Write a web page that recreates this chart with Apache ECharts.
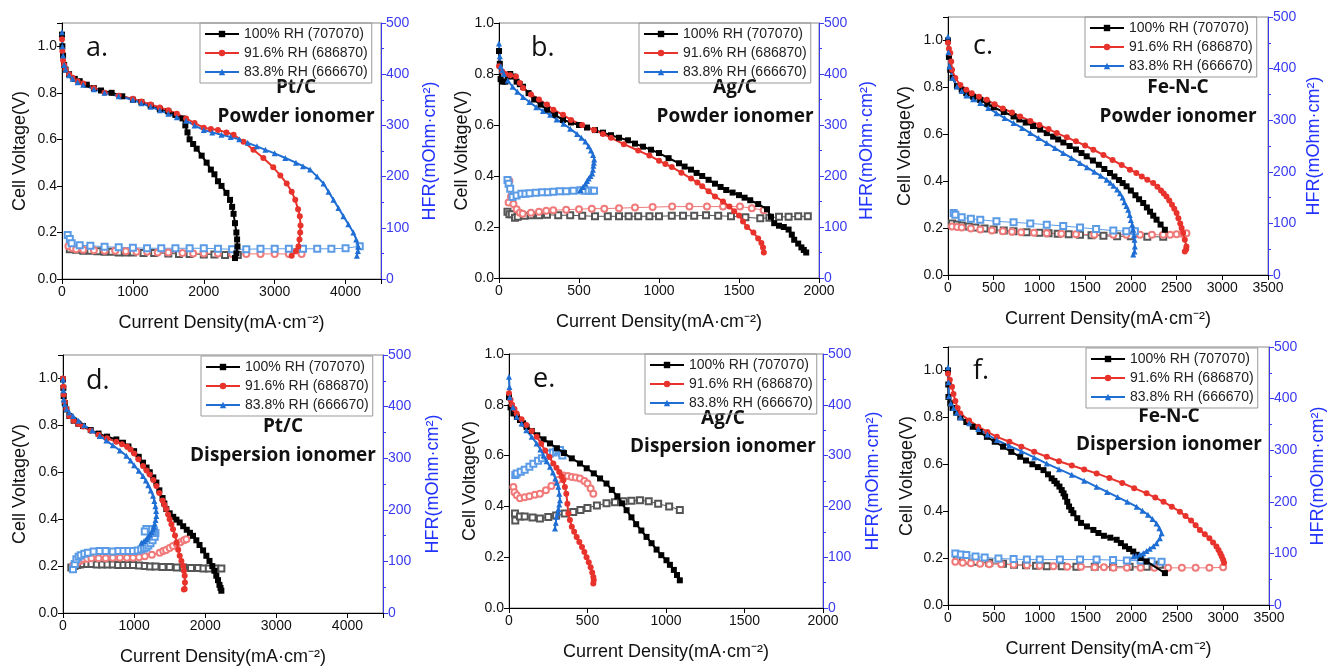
<!DOCTYPE html>
<html lang="en" style="height: 100%">
<head>
<meta charset="utf-8">
<title>Polarization and HFR curves</title>
</head>
<body style="height: 100%; margin: 0; background: #fff">
<div id="container" style="width: 1330px; height: 667px"></div>
<script type="text/javascript" src="https://cdn.jsdelivr.net/npm/echarts@6/dist/echarts.min.js"></script>
<script type="text/javascript">
var dom = document.getElementById('container');
var myChart = echarts.init(dom);

var rhNames = ['100% RH (707070)', '91.6% RH (686870)', '83.8% RH (666670)'];

// a. Pt/C powder ionomer  [current density, cell voltage] / [current density, HFR]
var aV100 = [[0,1.05],[5,1.0],[15,0.96],[30,0.92],[50,0.9],[100,0.88],[180,0.86],[250,0.85],[350,0.835],[450,0.82],[550,0.81],[700,0.8],[850,0.785],[1000,0.77],[1120,0.76],[1250,0.745],[1380,0.73],[1500,0.72],[1600,0.705],[1700,0.69],[1740,0.66],[1770,0.63],[1800,0.6],[1850,0.58],[1900,0.56],[1970,0.53],[2040,0.5],[2100,0.47],[2150,0.45],[2200,0.42],[2250,0.4],[2320,0.37],[2370,0.34],[2400,0.31],[2420,0.28],[2440,0.24],[2460,0.2],[2470,0.17],[2475,0.14],[2460,0.11],[2440,0.09]];
var aV916 = [[0,1.03],[5,0.98],[15,0.94],[30,0.92],[50,0.9],[100,0.88],[150,0.865],[220,0.85],[300,0.84],[450,0.82],[600,0.8],[800,0.787],[1000,0.775],[1120,0.763],[1250,0.75],[1380,0.737],[1500,0.725],[1620,0.71],[1750,0.69],[1870,0.67],[2000,0.65],[2100,0.645],[2200,0.64],[2320,0.63],[2420,0.62],[2560,0.59],[2700,0.555],[2840,0.52],[2980,0.48],[3080,0.445],[3170,0.41],[3240,0.375],[3290,0.34],[3330,0.3],[3355,0.27],[3365,0.23],[3360,0.2],[3350,0.17],[3335,0.14],[3300,0.12],[3240,0.1]];
var aV838 = [[0,1.06],[5,1.0],[15,0.96],[30,0.92],[50,0.9],[100,0.875],[150,0.86],[220,0.845],[300,0.835],[450,0.815],[600,0.8],[800,0.785],[1000,0.77],[1120,0.755],[1250,0.74],[1380,0.725],[1500,0.71],[1620,0.695],[1750,0.68],[1870,0.66],[2000,0.64],[2120,0.63],[2250,0.62],[2380,0.61],[2500,0.6],[2620,0.585],[2750,0.57],[2870,0.555],[3000,0.54],[3150,0.52],[3300,0.5],[3400,0.485],[3500,0.47],[3600,0.44],[3690,0.41],[3760,0.375],[3830,0.34],[3900,0.305],[3970,0.27],[4040,0.235],[4110,0.2],[4150,0.17],[4180,0.14],[4175,0.12],[4160,0.1]];
var aR100 = [[110,58],[200,57],[300,55],[400,55],[500,54],[600,53],[700,53],[800,52],[900,52],[1000,52],[1150,51],[1300,51],[1500,50],[1650,49],[1800,49],[2000,48],[2150,48],[2300,47],[2480,47]];
var aR916 = [[90,64],[150,60],[200,58],[300,57],[450,56],[600,55],[750,55],[900,54],[1050,53],[1200,53],[1350,52],[1500,52],[1700,51],[1850,50],[2000,50],[2200,50],[2400,49],[2600,49],[2800,49],[3000,49],[3200,49],[3380,49]];
var aR838 = [[80,86],[110,78],[136,70],[250,66],[400,65],[600,63],[800,62],[1000,61],[1200,60],[1400,60],[1600,60],[1800,60],[2000,60],[2200,59],[2400,58],[2600,58],[2800,59],[3000,59],[3200,59],[3400,59],[3600,59],[3800,59],[4000,60],[4200,64]];

// b. Ag/C powder ionomer
var bV100 = [[0,0.89],[5,0.84],[10,0.78],[25,0.77],[40,0.77],[55,0.79],[70,0.8],[90,0.79],[110,0.77],[130,0.76],[150,0.75],[185,0.725],[220,0.7],[260,0.68],[300,0.66],[350,0.64],[400,0.62],[450,0.61],[500,0.6],[550,0.59],[600,0.58],[650,0.57],[700,0.56],[750,0.55],[806,0.54],[850,0.527],[900,0.515],[950,0.503],[1000,0.49],[1060,0.47],[1125,0.45],[1160,0.437],[1200,0.425],[1235,0.412],[1270,0.4],[1310,0.385],[1350,0.37],[1385,0.357],[1420,0.345],[1460,0.335],[1500,0.325],[1535,0.315],[1570,0.305],[1620,0.29],[1675,0.27],[1700,0.24],[1720,0.215],[1750,0.205],[1780,0.2],[1810,0.19],[1830,0.17],[1845,0.15],[1870,0.135],[1890,0.12],[1905,0.11],[1920,0.1]];
var bV916 = [[0,0.83],[20,0.81],[40,0.8],[70,0.795],[106,0.79],[130,0.765],[150,0.745],[200,0.72],[250,0.7],[300,0.68],[340,0.66],[400,0.64],[450,0.62],[520,0.6],[594,0.58],[650,0.565],[700,0.55],[780,0.525],[870,0.5],[940,0.48],[1000,0.46],[1040,0.447],[1080,0.435],[1140,0.413],[1200,0.39],[1240,0.375],[1270,0.36],[1310,0.34],[1350,0.32],[1400,0.3],[1440,0.28],[1470,0.262],[1500,0.245],[1525,0.222],[1550,0.2],[1590,0.178],[1620,0.155],[1640,0.137],[1650,0.12],[1655,0.1]];
var bV838 = [[0,0.92],[5,0.87],[10,0.83],[20,0.815],[30,0.8],[55,0.775],[85,0.75],[115,0.73],[150,0.71],[190,0.69],[233,0.67],[275,0.655],[320,0.64],[360,0.622],[403,0.605],[445,0.585],[488,0.565],[515,0.55],[540,0.535],[560,0.517],[575,0.5],[588,0.482],[595,0.465],[593,0.452],[590,0.44],[587,0.425],[583,0.41],[572,0.4],[560,0.39],[550,0.38],[541,0.37],[525,0.357],[509,0.345]];
var bR100 = [[53,130],[65,125],[80,125],[100,118],[117,120],[160,122],[200,123],[250,123],[300,124],[370,123],[445,123],[520,122],[600,121],[680,121],[750,121],[810,121],[870,121],[940,121],[1000,121],[1080,122],[1150,122],[1220,122],[1294,123],[1370,122],[1450,121],[1540,119],[1633,117],[1690,118],[1750,120],[1810,120],[1870,121],[1930,121]];
var bR916 = [[60,148],[65,190],[75,160],[90,145],[110,135],[130,128],[148,126],[200,128],[250,130],[295,132],[339,133],[420,134],[500,135],[580,136],[658,136],[750,137],[850,138],[960,139],[1082,140],[1190,140],[1300,140],[1400,140],[1506,140],[1580,137],[1654,133]];
var bR838 = [[53,192],[60,185],[70,175],[85,159],[110,162],[140,165],[165,165],[191,166],[230,167],[270,168],[305,168],[339,169],[380,170],[420,170],[465,171],[509,172],[535,171],[560,171],[580,171],[594,171]];

// c. Fe-N-C powder ionomer
var cV100 = [[0,1.0],[10,0.93],[25,0.875],[50,0.84],[98,0.805],[150,0.79],[200,0.775],[275,0.76],[353,0.747],[430,0.73],[500,0.715],[610,0.695],[717,0.676],[780,0.663],[850,0.65],[930,0.635],[1008,0.62],[1080,0.605],[1150,0.59],[1205,0.578],[1262,0.565],[1330,0.55],[1400,0.535],[1460,0.52],[1517,0.506],[1585,0.488],[1650,0.47],[1710,0.452],[1772,0.435],[1820,0.42],[1870,0.405],[1910,0.392],[1953,0.378],[2000,0.36],[2050,0.34],[2090,0.323],[2135,0.307],[2175,0.288],[2210,0.27],[2245,0.253],[2281,0.236],[2325,0.215],[2372,0.193]];
var cV916 = [[0,0.99],[10,0.965],[25,0.946],[35,0.91],[44,0.875],[80,0.84],[135,0.81],[200,0.79],[260,0.775],[340,0.76],[425,0.747],[510,0.728],[600,0.71],[700,0.693],[789,0.676],[900,0.657],[1000,0.64],[1100,0.622],[1190,0.605],[1300,0.587],[1400,0.57],[1500,0.552],[1590,0.534],[1700,0.512],[1800,0.49],[1900,0.469],[1990,0.449],[2060,0.435],[2120,0.42],[2180,0.406],[2244,0.392],[2290,0.376],[2330,0.36],[2360,0.347],[2390,0.335],[2420,0.318],[2450,0.3],[2475,0.282],[2500,0.264],[2520,0.242],[2540,0.22],[2555,0.2],[2572,0.179],[2590,0.15],[2608,0.122],[2605,0.11],[2590,0.1]];
var cV838 = [[0,1.017],[5,0.95],[15,0.889],[50,0.84],[98,0.804],[150,0.785],[200,0.765],[275,0.749],[353,0.733],[440,0.712],[530,0.69],[620,0.669],[717,0.648],[810,0.627],[900,0.605],[990,0.584],[1080,0.5625],[1170,0.541],[1260,0.52],[1350,0.499],[1444,0.477],[1520,0.459],[1600,0.44],[1670,0.423],[1735,0.406],[1775,0.393],[1810,0.38],[1850,0.365],[1881,0.349],[1910,0.33],[1930,0.31],[1952,0.294],[1971,0.278],[1987,0.256],[2000,0.235],[2015,0.214],[2026,0.193],[2035,0.17],[2040,0.15],[2044,0.122],[2040,0.1],[2026,0.087]];
var cR100 = [[44,100],[100,98],[150,96],[225,94],[300,92],[400,90],[500,88],[610,86],[717,85],[860,83],[1000,82],[1100,81],[1200,80],[1320,79],[1444,78],[1570,77],[1700,76],[1850,75],[2000,75],[2180,74],[2354,74]];
var cR916 = [[44,94],[100,93],[150,92],[250,90],[353,88],[480,86],[600,85],[700,84],[800,83],[940,82],[1080,81],[1240,80],[1400,79],[1600,78],[1808,78],[1950,78],[2100,78],[2230,78],[2354,78],[2430,78],[2500,79],[2560,80],[2608,81]];
var cR838 = [[62,120],[80,117],[150,112],[250,109],[353,107],[530,104],[717,102],[900,100],[1080,97.5],[1260,95],[1444,92],[1620,89],[1808,86],[1950,85],[2044,85]];

// d. Pt/C dispersion ionomer
var dV100 = [[0,0.996],[5,0.96],[10,0.925],[25,0.895],[47,0.868],[90,0.84],[150,0.82],[215,0.807],[281,0.797],[390,0.78],[500,0.765],[620,0.752],[750,0.74],[844,0.726],[920,0.71],[1000,0.69],[1065,0.666],[1125,0.641],[1175,0.62],[1220,0.6],[1270,0.578],[1313,0.556],[1355,0.523],[1400,0.49],[1425,0.467],[1453,0.443],[1500,0.425],[1550,0.41],[1595,0.398],[1641,0.386],[1690,0.37],[1740,0.355],[1785,0.342],[1828,0.329],[1875,0.31],[1920,0.29],[1970,0.267],[2016,0.244],[2060,0.222],[2100,0.2],[2130,0.18],[2156,0.159],[2180,0.14],[2200,0.12],[2215,0.107],[2227,0.095]];
var dV916 = [[0,1.0],[5,0.965],[10,0.93],[25,0.9],[47,0.87],[90,0.84],[150,0.82],[215,0.806],[281,0.795],[390,0.777],[500,0.76],[620,0.745],[750,0.73],[830,0.72],[900,0.71],[950,0.697],[1000,0.68],[1060,0.655],[1125,0.627],[1175,0.608],[1220,0.59],[1270,0.567],[1313,0.542],[1355,0.512],[1400,0.48],[1425,0.462],[1453,0.443],[1478,0.42],[1500,0.4],[1525,0.378],[1547,0.357],[1575,0.33],[1600,0.3],[1620,0.27],[1641,0.244],[1665,0.222],[1690,0.2],[1700,0.18],[1711,0.159],[1715,0.13],[1711,0.102],[1700,0.1]];
var dV838 = [[0,0.996],[5,0.95],[10,0.91],[25,0.89],[50,0.87],[90,0.855],[141,0.84],[220,0.82],[300,0.8],[410,0.778],[516,0.755],[610,0.735],[700,0.715],[800,0.693],[891,0.67],[950,0.65],[1000,0.63],[1065,0.607],[1125,0.584],[1165,0.565],[1200,0.545],[1235,0.522],[1266,0.5],[1285,0.477],[1300,0.455],[1310,0.435],[1313,0.414],[1302,0.397],[1290,0.38],[1280,0.368],[1266,0.357],[1245,0.345],[1220,0.335],[1195,0.325],[1172,0.315],[1140,0.307],[1102,0.3]];
var dR100 = [[117,88],[160,91],[200,93],[240,94],[281,95],[340,95],[400,95],[475,94],[550,94],[625,94],[700,94],[775,93],[850,93],[920,93],[985,93],[1070,92],[1150,91],[1225,90],[1300,90],[1400,89],[1500,89],[1600,88],[1688,88],[1800,87],[1900,87],[1975,86],[2050,86],[2140,86],[2227,86]];
var dR916 = [[141,91],[170,95],[200,98],[240,101],[281,104],[340,105],[400,106],[500,106],[600,106],[700,107],[800,107],[900,107],[985,107],[1070,108],[1150,110],[1250,113],[1360,117],[1410,120],[1450,122],[1500,126],[1547,130],[1600,134],[1650,137],[1700,141],[1735,143]];
var dR838 = [[141,85],[165,95],[188,104],[220,109],[250,112],[300,115],[350,117],[430,119],[516,120],[600,120],[700,119],[780,120],[850,120],[920,120],[985,120],[1050,121],[1100,123],[1140,125],[1172,127],[1200,131],[1230,135],[1260,141],[1290,148],[1300,155],[1280,159],[1250,162],[1210,163],[1172,163],[1150,158]];

// e. Ag/C dispersion ionomer
var eV100 = [[0,0.83],[10,0.79],[28,0.766],[50,0.752],[70,0.74],[90,0.727],[112,0.713],[145,0.697],[180,0.68],[220,0.664],[261,0.648],[305,0.629],[350,0.61],[400,0.589],[452,0.569],[495,0.55],[540,0.53],[580,0.51],[621,0.49],[655,0.465],[690,0.44],[720,0.412],[749,0.385],[780,0.357],[810,0.33],[843,0.305],[876,0.28],[908,0.255],[940,0.23],[970,0.208],[1003,0.188],[1025,0.17],[1050,0.15],[1070,0.13],[1088,0.109]];
var eV916 = [[0,0.845],[10,0.82],[20,0.8],[35,0.783],[49,0.766],[80,0.743],[110,0.72],[145,0.697],[176,0.674],[205,0.647],[230,0.62],[258,0.594],[282,0.569],[302,0.552],[320,0.535],[335,0.519],[346,0.503],[356,0.476],[365,0.45],[372,0.41],[378,0.372],[388,0.346],[400,0.32],[415,0.3],[431,0.28],[448,0.26],[465,0.24],[480,0.22],[494,0.2],[508,0.18],[520,0.16],[530,0.14],[537,0.122],[540,0.11],[537,0.096]];
var eV838 = [[0,0.91],[3,0.87],[5,0.83],[25,0.79],[49,0.753],[80,0.726],[110,0.7],[145,0.674],[176,0.648],[200,0.624],[220,0.6],[240,0.578],[261,0.556],[280,0.533],[295,0.51],[305,0.493],[314,0.477],[320,0.45],[325,0.424],[320,0.407],[315,0.39],[310,0.375],[303,0.359],[298,0.336],[293,0.313]];
var eR100 = [[38,186],[40,172],[70,180],[100,180],[150,178],[197,176],[250,179],[300,182],[355,186],[409,189],[455,193],[500,197],[560,202],[621,206],[675,208],[730,210],[780,211],[834,212],[890,210],[950,205],[1020,200],[1088,193]];
var eR916 = [[28,238],[35,228],[50,222],[70,216],[100,218],[130,220],[165,223],[197,225],[235,232],[270,240],[310,252],[346,261],[375,260],[400,258],[425,257],[452,255],[480,250],[500,245],[520,235],[537,225]];
var eR838 = [[40,262],[49,265],[75,268],[100,272],[130,278],[155,284],[185,290],[210,295],[235,300],[261,304],[280,306],[300,308],[315,310],[325,311],[335,305],[340,300]];

// f. Fe-N-C dispersion ionomer
var fV100 = [[0,1.0],[3,0.94],[5,0.887],[25,0.86],[50,0.84],[90,0.82],[134,0.8],[200,0.78],[270,0.76],[345,0.738],[424,0.717],[510,0.696],[600,0.675],[690,0.653],[787,0.632],[850,0.616],[920,0.6],[980,0.588],[1041,0.575],[1090,0.557],[1130,0.54],[1160,0.529],[1186,0.518],[1215,0.505],[1240,0.49],[1260,0.476],[1277,0.462],[1300,0.44],[1320,0.42],[1345,0.405],[1367,0.391],[1410,0.37],[1450,0.35],[1515,0.335],[1585,0.32],[1640,0.307],[1700,0.295],[1770,0.287],[1839,0.278],[1885,0.264],[1930,0.25],[1975,0.239],[2020,0.228],[2060,0.214],[2100,0.2],[2165,0.186],[2365,0.136]];
var fV916 = [[0,0.986],[20,0.96],[44,0.93],[60,0.9],[80,0.87],[105,0.84],[134,0.816],[230,0.787],[330,0.76],[430,0.738],[533,0.717],[670,0.696],[800,0.675],[940,0.653],[1077,0.632],[1210,0.613],[1350,0.595],[1485,0.578],[1621,0.561],[1760,0.541],[1900,0.52],[2030,0.498],[2165,0.476],[2260,0.458],[2350,0.44],[2440,0.419],[2528,0.398],[2590,0.379],[2650,0.36],[2700,0.34],[2746,0.32],[2800,0.302],[2850,0.285],[2890,0.267],[2927,0.249],[2950,0.235],[2970,0.22],[2985,0.207],[3000,0.193],[3010,0.18]];
var fV838 = [[0,1.014],[5,0.95],[10,0.89],[30,0.86],[60,0.84],[95,0.82],[134,0.8],[230,0.775],[330,0.75],[430,0.727],[533,0.703],[665,0.679],[800,0.655],[940,0.629],[1077,0.603],[1210,0.579],[1350,0.555],[1485,0.53],[1621,0.504],[1735,0.482],[1850,0.46],[1955,0.44],[2057,0.419],[2120,0.402],[2180,0.385],[2230,0.367],[2274,0.348],[2305,0.327],[2329,0.306],[2310,0.285],[2274,0.263],[2240,0.25],[2200,0.24],[2165,0.23],[2129,0.221],[2090,0.215],[2050,0.21],[2020,0.207]];
var fR100 = [[98,88],[200,86],[300,84],[450,82],[600,80],[720,78],[850,77],[960,76],[1077,75],[1240,75],[1400,74],[1600,74],[1800,74],[1980,74],[2165,74],[2240,76],[2310,78]];
var fR916 = [[80,84],[160,82],[250,81],[350,80],[450,79],[580,79],[715,78],[860,77],[1000,76],[1150,75],[1300,74],[1450,74],[1600,73],[1700,73],[1803,72],[1950,72],[2100,72],[2250,72],[2400,72],[2550,72],[2700,72],[2850,72],[3000,73]];
var fR838 = [[80,100],[140,98],[200,97],[300,94],[400,92],[550,90],[715,89],[860,88],[1000,88],[1220,88],[1440,88],[1620,88],[1800,87],[1950,86],[2100,86],[2220,85],[2329,84]];

// layout of the six panels
var panels = [
    {tag: 'a.', cat: 'Pt/C',   ion: 'Powder ionomer',     V: [aV100, aV916, aV838], R: [aR100, aR916, aR838], xMax: 4500, xInt: 1000, yMax: 1.1,
     grid: {left: 62, top: 23, width: 319, height: 256}, legend: [200, 23], tagPos: [86, 52], txtPos: [296, 88, 117], gaps: [33, 40, 35]},
    {tag: 'b.', cat: 'Ag/C',   ion: 'Powder ionomer',     V: [bV100, bV916, bV838], R: [bR100, bR916, bR838], xMax: 2000, xInt: 500, yMax: 1.0,
     grid: {left: 499, top: 23, width: 320, height: 255}, legend: [639, 23], tagPos: [531, 52], txtPos: [735, 88, 117], gaps: [28, 39, 35]},
    {tag: 'c.', cat: 'Fe-N-C', ion: 'Powder ionomer',     V: [cV100, cV916, cV838], R: [cR100, cR916, cR838], xMax: 3500, xInt: 500, yMax: 1.1,
     grid: {left: 948, top: 17, width: 320, height: 258}, legend: [1085, 17], tagPos: [973, 50], txtPos: [1178, 88, 117], gaps: [34, 37, 35]},
    {tag: 'd.', cat: 'Pt/C',   ion: 'Dispersion ionomer', V: [dV100, dV916, dV838], R: [dR100, dR916, dR838], xMax: 4500, xInt: 1000, yMax: 1.1,
     grid: {left: 63, top: 355, width: 320, height: 259}, legend: [201, 356], tagPos: [86, 385], txtPos: [283, 427, 456], gaps: [34, 41, 35]},
    {tag: 'e.', cat: 'Ag/C',   ion: 'Dispersion ionomer', V: [eV100, eV916, eV838], R: [eR100, eR916, eR838], xMax: 2000, xInt: 500, yMax: 1.0,
     grid: {left: 509, top: 354, width: 314, height: 254}, legend: [645, 354], tagPos: [533, 383], txtPos: [723, 419, 447], gaps: [30, 41, 35]},
    {tag: 'f.', cat: 'Fe-N-C', ion: 'Dispersion ionomer', V: [fV100, fV916, fV838], R: [fR100, fR916, fR838], xMax: 3500, xInt: 500, yMax: 1.1,
     grid: {left: 948, top: 347, width: 321, height: 258}, legend: [1086, 348], tagPos: [973, 375], txtPos: [1169, 417, 445], gaps: [32, 40, 35]}
];

var solidColors = ['#000000', '#e8322c', '#1f6ed4'];
var hollowColors = ['#555555', '#f07a7a', '#5b9be6'];
var solidSymbols = ['rect', 'circle', 'triangle'];
var hollowSymbols = ['emptyRect', 'emptyCircle', 'emptyRect'];
var axisFont = 'Liberation Sans';
var hfrBlue = '#3a3af0';

var grids = [], xAxes = [], yAxes = [], series = [], legends = [], texts = [];

panels.forEach(function (p, i) {
    grids.push(Object.assign({show: true, borderColor: '#888', borderWidth: 1, backgroundColor: 'transparent'}, p.grid));

    xAxes.push({
        type: 'value', gridIndex: i, min: 0, max: p.xMax, interval: p.xInt,
        name: 'Current Density(mA·cm⁻²)', nameLocation: 'middle', nameGap: p.gaps[2],
        nameTextStyle: {fontFamily: axisFont, fontSize: 18, color: '#111'},
        axisLine: {lineStyle: {color: '#000', width: 1}},
        axisTick: {length: 5, lineStyle: {color: '#000'}},
        axisLabel: {fontFamily: axisFont, fontSize: 14, color: '#111', margin: 6,
            formatter: function (v) { return v % p.xInt === 0 ? String(v) : ''; }},
        splitLine: {show: false}
    });

    yAxes.push({
        type: 'value', gridIndex: i, position: 'left', min: 0, max: p.yMax, interval: 0.2,
        name: 'Cell Voltage(V)', nameLocation: 'middle', nameGap: p.gaps[0],
        nameTextStyle: {fontFamily: axisFont, fontSize: 18, color: '#111'},
        axisLine: {show: true, lineStyle: {color: '#000', width: 1}},
        axisTick: {length: 5, lineStyle: {color: '#000'}},
        axisLabel: {fontFamily: axisFont, fontSize: 14, color: '#111', margin: 5,
            formatter: function (v) { return v > 1.05 ? '' : v.toFixed(1); }},
        splitLine: {show: false}
    });
    yAxes.push({
        type: 'value', gridIndex: i, position: 'right', min: 0, max: 500, interval: 100,
        name: 'HFR(mOhm·cm²)', nameLocation: 'middle', nameGap: p.gaps[1],
        nameTextStyle: {fontFamily: axisFont, fontSize: 18, color: '#2233ff'},
        axisLine: {show: true, lineStyle: {color: hfrBlue, width: 1}},
        axisTick: {length: 5, lineStyle: {color: hfrBlue}},
        minorTick: {show: true, splitNumber: 2, length: 3, lineStyle: {color: hfrBlue}},
        axisLabel: {fontFamily: axisFont, fontSize: 14, color: hfrBlue, margin: 5},
        splitLine: {show: false}
    });

    for (var k = 0; k < 3; k++) {
        series.push({
            name: 'HFR ' + rhNames[k], type: 'line', xAxisIndex: i, yAxisIndex: 2 * i + 1,
            data: p.R[k], symbol: hollowSymbols[k], symbolSize: 6,
            itemStyle: {color: hollowColors[k], borderWidth: 1},
            lineStyle: {color: hollowColors[k], width: 1}, z: 2
        });
    }
    for (var k2 = 0; k2 < 3; k2++) {
        series.push({
            name: rhNames[k2], type: 'line', xAxisIndex: i, yAxisIndex: 2 * i,
            data: p.V[k2], symbol: solidSymbols[k2], symbolSize: 6,
            itemStyle: {color: solidColors[k2]},
            lineStyle: {color: solidColors[k2], width: 2}, z: 3
        });
    }

    legends.push({
        orient: 'vertical', left: p.legend[0], top: p.legend[1],
        itemWidth: 34, itemHeight: 8, itemGap: 5, padding: [4, 4, 4, 4],
        borderColor: '#999', borderWidth: 1, selectedMode: false,
        textStyle: {fontFamily: axisFont, fontSize: 14, color: '#222'},
        data: rhNames
    });

    texts.push({type: 'text', left: p.tagPos[0], top: p.tagPos[1] - 17,
        style: {text: p.tag, fontFamily: 'Open Sans', fontSize: 27, fill: '#111'}});
    texts.push({type: 'text', x: p.txtPos[0], y: p.txtPos[1],
        style: {text: p.cat, fontFamily: 'Open Sans', fontWeight: 'bold', fontSize: 19, fill: '#111',
            align: 'center', verticalAlign: 'middle'}});
    texts.push({type: 'text', x: p.txtPos[0], y: p.txtPos[2],
        style: {text: p.ion, fontFamily: 'Open Sans', fontWeight: 'bold', fontSize: 19, fill: '#111',
            align: 'center', verticalAlign: 'middle'}});
});

var option = {
    animation: false,
    backgroundColor: '#fff',
    grid: grids,
    xAxis: xAxes,
    yAxis: yAxes,
    legend: legends,
    graphic: texts,
    series: series
};

myChart.setOption(option);
window.addEventListener('resize', myChart.resize);
</script>
</body>
</html>
